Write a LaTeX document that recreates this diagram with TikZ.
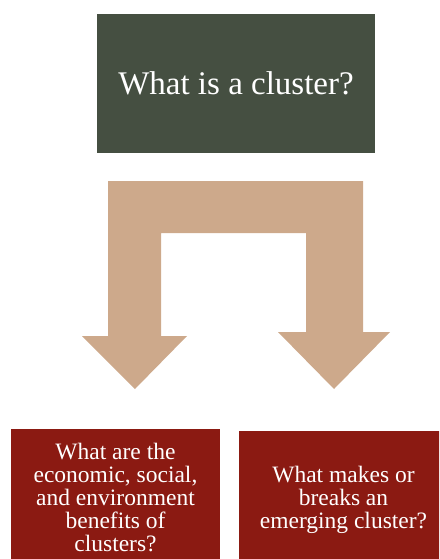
\documentclass[tikz,border=0pt]{standalone}
\usepackage{fontspec}
\setmainfont{Liberation Serif}
\usetikzlibrary{positioning}
\definecolor{clustergreen}{HTML}{454F41}
\definecolor{arrowtan}{HTML}{CDA98B}
\definecolor{questionred}{HTML}{8B1A12}

\begin{document}
\begin{tikzpicture}[x=1pt,y=-1pt,
  topbox/.style={fill=clustergreen,text=white,minimum width=278pt,minimum height=139pt,inner sep=0pt,font=\fontsize{33}{38}\selectfont},
  qbox/.style={fill=questionred,text=white,minimum width=209pt,minimum height=138pt,inner sep=0pt,align=center,font=\fontsize{23.5}{23}\selectfont}]
\useasboundingbox (0,0) rectangle (439,559);
\clip (0,0) rectangle (439,559);
% Top question
\node[topbox] (cluster) at (236,83.5) {What is a cluster?};
% Split arrow
\fill[arrowtan] (108,181) -- (363,181) -- (363,332) -- (390,332) -- (334,389)
  -- (278,332) -- (306,332) -- (306,233) -- (161,233) -- (161,336)
  -- (187,336) -- (135,389) -- (82,336) -- (108,336) -- cycle;
% Bottom questions
\node[qbox] (benefits) at (115.5,498) {What are the\\economic, social,\\and environment\\benefits of\\clusters?};
\node[qbox] (emerging) at (343.5,500) {What makes or\\breaks an\\emerging cluster?};
\end{tikzpicture}
\end{document}
